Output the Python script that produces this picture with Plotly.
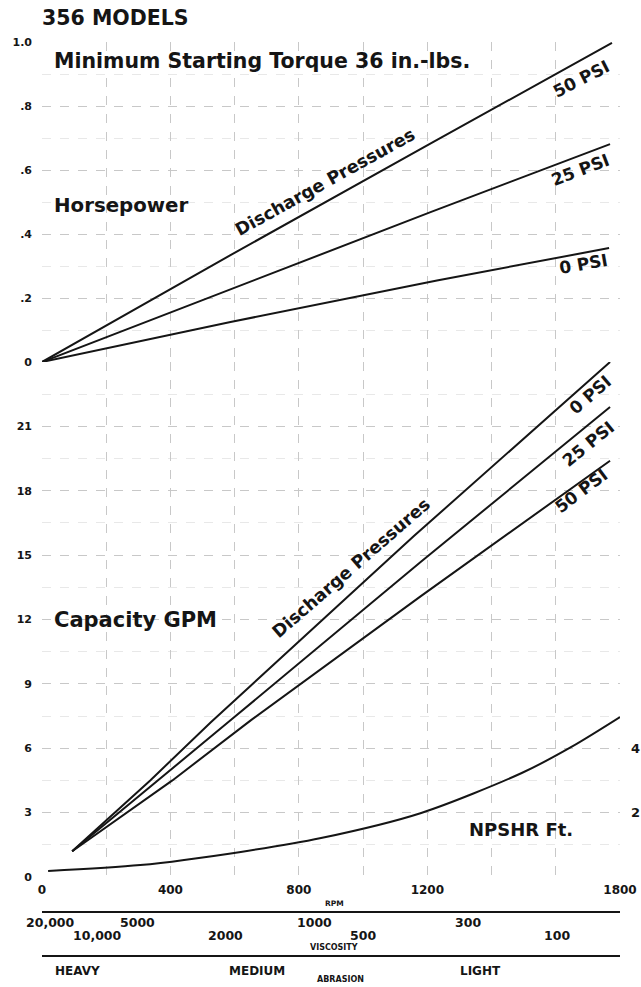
import plotly.graph_objects as go

# ---------------- data ----------------
# Horsepower vs RPM (top panel)
hp_rpm_50 = [0, 447, 587, 1212, 1775]
hp_50 = [0, 0.256, 0.334, 0.684, 0.997]
hp_rpm_25 = [0, 587, 1212, 1769]
hp_25 = [0, 0.228, 0.469, 0.681]
hp_rpm_0 = [0, 587, 1230, 1766]
hp_0 = [0, 0.125, 0.255, 0.356]

# Capacity GPM vs RPM (bottom panel)
gpm_rpm_0 = [94, 337, 525, 1159, 1769]
gpm_0 = [1.2, 4.5, 7.2, 15.9, 24.0]
gpm_rpm_25 = [94, 362, 587, 1181, 1769]
gpm_25 = [1.2, 4.5, 7.3, 14.7, 21.9]
gpm_rpm_50 = [94, 406, 650, 1181, 1769]
gpm_50 = [1.2, 4.5, 7.3, 13.1, 19.4]

# NPSHR ft vs RPM (right-hand scale)
npshr_rpm = [19, 306, 619, 869, 1181, 1494, 1650, 1800]
npshr_ft = [0.19, 0.37, 0.78, 1.21, 1.99, 3.23, 4.05, 4.97]

# tick labels
rpm_ticks = [0, 200, 400, 600, 800, 1000, 1200, 1400, 1600, 1800]
rpm_text = ["0", "", "400", "", "800", "", "1200", "", "", "1800"]
gpm_ticks = [0, 3, 6, 9, 12, 15, 18, 21]
hp_ticks = [0, 0.2, 0.4, 0.6, 0.8, 1.0]
hp_text = ["0", ".2", ".4", ".6", ".8", "1.0"]
npshr_ticks = [2, 4]

# viscosity scale (label, rpm, row) and abrasion scale (label, rpm)
visc_labels = ["20,000", "10,000", "5000", "2000", "1000", "500", "300", "100"]
visc_rpm = [28, 174, 296, 570, 850, 1000, 1327, 1604]
visc_row = [0, 1, 0, 1, 0, 1, 0, 1]
abr_labels = ["HEAVY", "MEDIUM", "LIGHT"]
abr_rpm = [109, 670, 1364]

# ---------------- layout geometry ----------------
W, H = 641, 987
L, R, T, B = 42, 21, 42, 110
PW, PH = W - L - R, H - T - B
split = (877 - 362) / PH

def px(x):
    return (x - L) / PW

def py(y):
    return (H - B - y) / PH

FONT = "DejaVu Sans"
INK = "#151515"
GRID = "#c8c8c8"

fig = go.Figure()
line = dict(color=INK, width=2)
for xs, ys in [(hp_rpm_50, hp_50), (hp_rpm_25, hp_25), (hp_rpm_0, hp_0)]:
    fig.add_trace(go.Scatter(x=xs, y=ys, mode="lines", line=line, yaxis="y2",
                             hoverinfo="skip", showlegend=False))
for xs, ys in [(gpm_rpm_0, gpm_0), (gpm_rpm_25, gpm_25), (gpm_rpm_50, gpm_50)]:
    fig.add_trace(go.Scatter(x=xs, y=ys, mode="lines", line=line, yaxis="y",
                             hoverinfo="skip", showlegend=False))
fig.add_trace(go.Scatter(x=npshr_rpm, y=npshr_ft, mode="lines",
                         line=dict(color=INK, width=2, shape="spline", smoothing=0.8),
                         yaxis="y3", hoverinfo="skip", showlegend=False))

tickfont = dict(family=FONT, size=11, color=INK, weight="bold")

annotations = []

def ann(text, x, y, size, angle=0, xanchor="center", weight="bold", color=INK):
    annotations.append(dict(text=text, x=px(x), y=py(y), xref="paper", yref="paper",
                            xanchor=xanchor, yanchor="middle", textangle=angle,
                            showarrow=False,
                            font=dict(family=FONT, size=size, color=color, weight=weight)))

ann("356 MODELS", 40, 18, 20.5, xanchor="left")
ann("Minimum Starting Torque 36 in.-lbs.", 52, 61, 20.5, xanchor="left")
ann("Horsepower", 52, 206, 19.8, xanchor="left")
ann("Capacity GPM", 52, 620, 21, xanchor="left")
ann("NPSHR Ft.", 467, 829, 18, xanchor="left")

ann("Discharge Pressures", 325, 182, 17.5, angle=-29)
ann("50 PSI", 581, 79, 17, angle=-27)
ann("25 PSI", 580, 170, 17, angle=-21)
ann("0 PSI", 583, 264, 17, angle=-10)

ann("Discharge Pressures", 351, 568, 17.5, angle=-41)
ann("0 PSI", 590, 395, 17, angle=-41)
ann("25 PSI", 588, 444, 17, angle=-39)
ann("50 PSI", 581, 491, 17, angle=-37)

# right-hand NPSHR scale labels
for v in npshr_ticks:
    annotations.append(dict(text=str(v), x=px(629), y=v, xref="paper", yref="y3",
                            xanchor="left", yanchor="middle", showarrow=False,
                            font=dict(family=FONT, size=13, color=INK, weight="bold")))

# secondary scales under the RPM axis
for lab, r, row in zip(visc_labels, visc_rpm, visc_row):
    annotations.append(dict(text=lab, x=r, y=py(923 + 12 * row), xref="x", yref="paper",
                            xanchor="center", yanchor="middle", showarrow=False,
                            font=dict(family=FONT, size=12.5, color=INK, weight="bold")))
for lab, r in zip(abr_labels, abr_rpm):
    annotations.append(dict(text=lab, x=r, y=py(971), xref="x", yref="paper",
                            xanchor="center", yanchor="middle", showarrow=False,
                            font=dict(family=FONT, size=12, color=INK, weight="bold")))
ann("RPM", 334, 903, 7.5)
ann("VISCOSITY", 334, 947, 8)
ann("ABRASION", 340, 980, 8)

shapes = [
    dict(type="line", xref="paper", yref="paper", x0=0, x1=1, y0=py(912), y1=py(912),
         line=dict(color=INK, width=2)),
    dict(type="line", xref="paper", yref="paper", x0=0, x1=1, y0=py(956), y1=py(956),
         line=dict(color=INK, width=2)),
]

fig.update_layout(
    width=W, height=H, autosize=False,
    margin=dict(l=L, r=R, t=T, b=B, pad=0, autoexpand=False),
    paper_bgcolor="white", plot_bgcolor="white",
    showlegend=False,
    annotations=annotations, shapes=shapes,
    xaxis=dict(range=[0, 1800], tickvals=rpm_ticks, ticktext=rpm_text,
               showgrid=True, gridcolor=GRID, griddash="dash", gridwidth=1,
               zeroline=False, showline=False, ticks="", automargin=False,
               tickfont=dict(family=FONT, size=12, color=INK, weight="bold"),
               ticklabelstandoff=4, fixedrange=True),
    yaxis=dict(domain=[0, split], range=[0, 24], tickvals=gpm_ticks,
               showgrid=True, gridcolor=GRID, griddash="dash", gridwidth=1,
               minor=dict(dtick=1.5, showgrid=True, gridcolor="#e8e8e8", griddash="dash"),
               zeroline=False, showline=False, ticks="", tickfont=tickfont,
               automargin=False, ticklabelstandoff=9, fixedrange=True),
    yaxis2=dict(domain=[split, 1], range=[0, 1], tickvals=hp_ticks, ticktext=hp_text,
                anchor="x",
                showgrid=True, gridcolor=GRID, griddash="dash", gridwidth=1,
                minor=dict(dtick=0.1, showgrid=True, gridcolor="#e8e8e8", griddash="dash"),
                zeroline=False, showline=False, ticks="", tickfont=tickfont,
                automargin=False, ticklabelstandoff=9, fixedrange=True),
    yaxis3=dict(overlaying="y", side="right", anchor="x", range=[0, 16],
                showticklabels=False, showgrid=False, zeroline=False, showline=False,
                ticks="", automargin=False, fixedrange=True),
)

fig.write_html("out.html", config={"displayModeBar": False},
               post_script="document.body.style.margin='0';document.body.style.overflow='hidden';")
